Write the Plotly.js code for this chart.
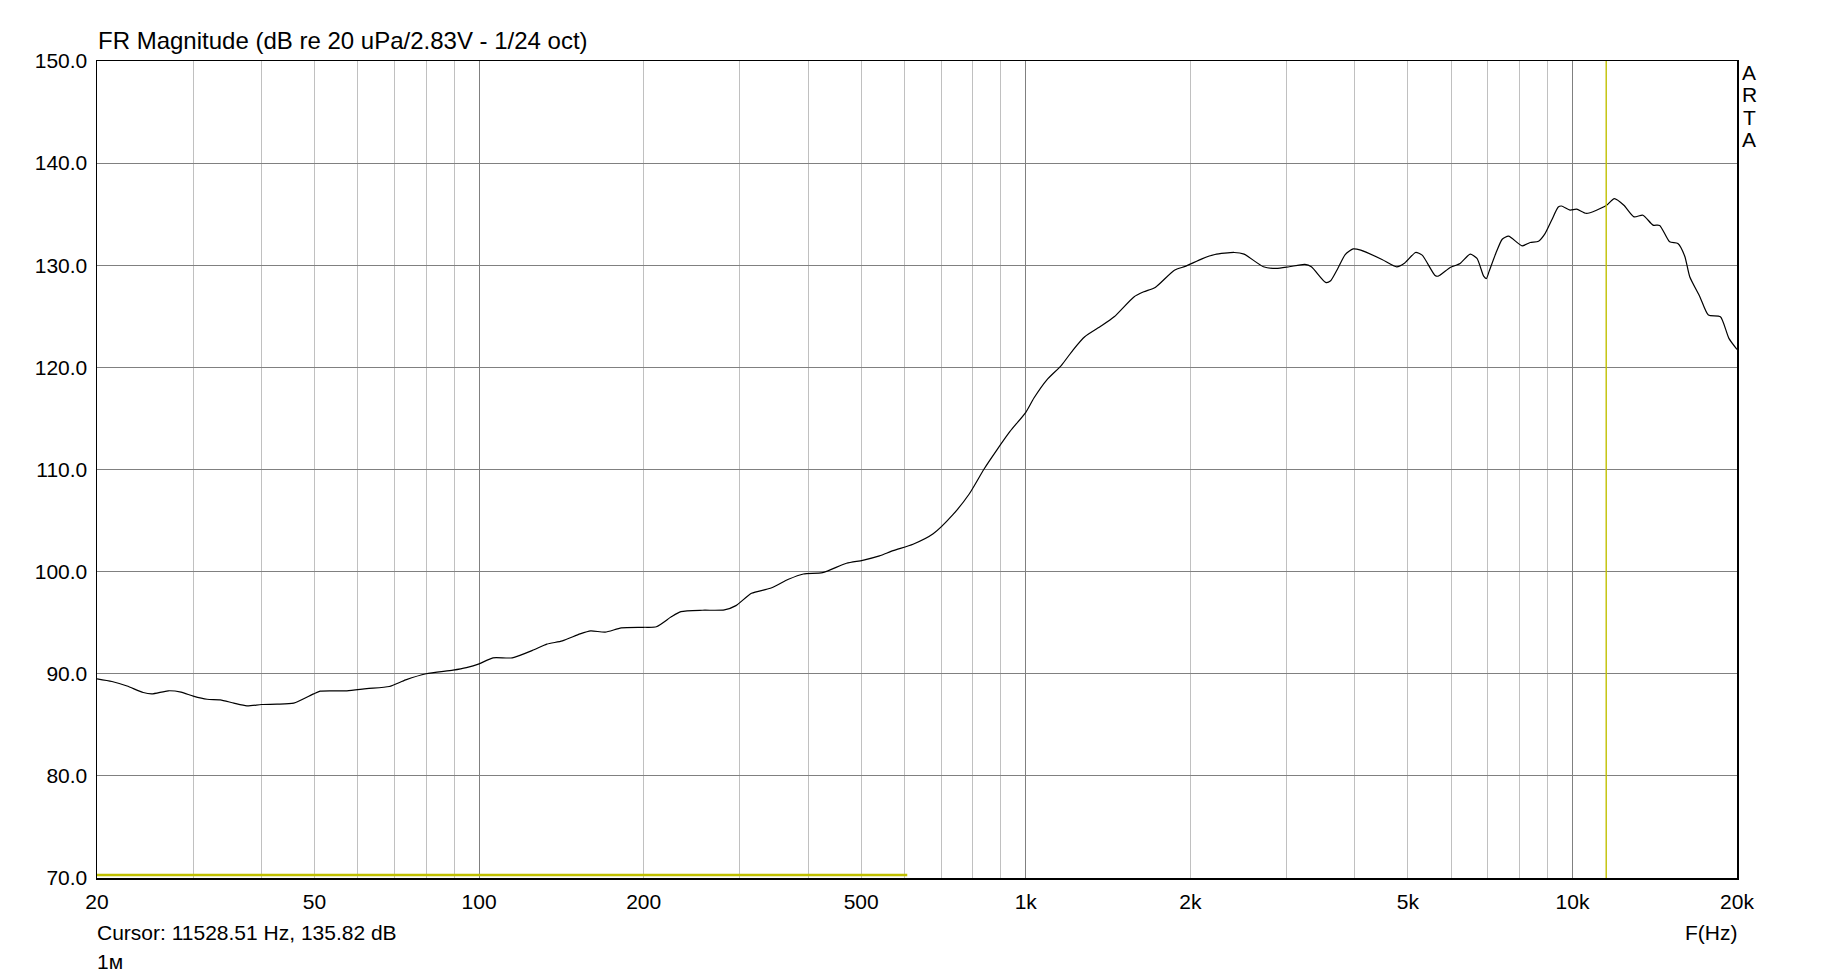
<!DOCTYPE html>
<html>
<head>
<meta charset="utf-8">
<script src="https://cdn.plot.ly/plotly-3.0.1.min.js"></script>
<style>
  html, body { margin: 0; padding: 0; background: #ffffff; }
  #chart { width: 1833px; height: 978px; }
</style>
</head>
<body>
<div id="chart"></div>
<script>
// ---- data ----
const freqHz = [20, 21.3, 22.7, 24.3, 25.2, 27.0, 28.5, 30, 31.8, 33.6, 35.6, 37.6, 40, 42.7, 45.8, 49.8, 51.2, 57.3, 62.3, 68.5, 73.4, 80, 89.6, 94.8, 100, 106, 115, 126, 133, 142, 153, 160, 170, 182, 200, 211, 225, 234, 256, 281, 295, 315, 341, 368, 392, 425, 470, 503, 540, 572, 622, 677, 735, 788, 839, 885, 935, 1000, 1035, 1092, 1162, 1220, 1282, 1373, 1451, 1577, 1644, 1725, 1870, 1963, 2100, 2218, 2406, 2508, 2721, 2873, 3033, 3240, 3330, 3536, 3607, 3722, 3840, 3970, 4100, 4484, 4770, 4935, 5165, 5310, 5600, 5680, 5975, 6230, 6500, 6690, 6880, 6960, 7040, 7240, 7440, 7640, 8090, 8370, 8670, 8910, 9160, 9420, 9550, 9900, 10180, 10610, 11530, 11930, 12420, 12960, 13460, 14040, 14440, 15060, 15590, 16050, 16390, 17110, 17730, 18650, 19330, 20000];
const magDb = [89.5, 89.24, 88.8, 88.16, 88.03, 88.33, 88.2, 87.81, 87.5, 87.45, 87.12, 86.86, 86.99, 87.02, 87.12, 88.03, 88.3, 88.33, 88.55, 88.75, 89.4, 90.0, 90.35, 90.6, 90.97, 91.56, 91.56, 92.35, 92.9, 93.22, 93.9, 94.2, 94.07, 94.49, 94.55, 94.6, 95.6, 96.08, 96.22, 96.25, 96.67, 97.88, 98.37, 99.25, 99.77, 99.9, 100.82, 101.11, 101.54, 102.06, 102.68, 103.7, 105.55, 107.6, 110.05, 111.9, 113.7, 115.6, 117.0, 118.76, 120.2, 121.7, 123.0, 124.04, 124.95, 126.9, 127.4, 127.83, 129.52, 129.91, 130.63, 131.05, 131.25, 131.09, 129.85, 129.69, 129.85, 130.08, 129.85, 128.32, 128.45, 129.69, 131.05, 131.6, 131.48, 130.57, 129.85, 130.23, 131.25, 130.99, 129.03, 128.93, 129.78, 130.17, 131.09, 130.67, 128.93, 128.7, 129.4, 131.15, 132.55, 132.85, 131.9, 132.23, 132.36, 133.1, 134.4, 135.7, 135.8, 135.4, 135.49, 135.07, 135.85, 136.53, 135.88, 134.74, 134.9, 133.93, 133.9, 132.29, 132.13, 130.89, 128.87, 126.9, 125.12, 124.95, 122.84, 121.76];

// second (yellow) trace lying on the bottom of the plot
const lowTraceHz = [20, 607];
const lowTraceDb = [70.3, 70.3];

// cursor
const cursorFreq = 11528.51;
const cursorDb = 135.82;

// axes
const xRange = [20, 20000];
const yRange = [70, 150];
const xGridVals = [20, 30, 40, 50, 60, 70, 80, 90, 100, 200, 300, 400, 500, 600, 700, 800, 900, 1000, 2000, 3000, 4000, 5000, 6000, 7000, 8000, 9000, 10000, 20000];
const xLabelMap = {20: '20', 50: '50', 100: '100', 200: '200', 500: '500', 1000: '1k', 2000: '2k', 5000: '5k', 10000: '10k', 20000: '20k'};
const xDecadeVals = [100, 1000, 10000];

const titleText = 'FR Magnitude (dB re 20 uPa/2.83V - 1/24 oct)';
const xAxisLabel = 'F(Hz)';
const brandLetters = ['A', 'R', 'T', 'A'];
const distanceLabel = '1м';

// ---- build ----
const FONT = '"Liberation Sans", Arial, Helvetica, sans-serif';

const traces = [
  {
    x: freqHz, y: magDb, type: 'scatter', mode: 'lines',
    line: {color: '#000000', width: 1.2, shape: 'spline', smoothing: 0.6},
    xaxis: 'x', yaxis: 'y', hoverinfo: 'skip'
  },
  {
    x: lowTraceHz, y: lowTraceDb, type: 'scatter', mode: 'lines',
    line: {color: '#c0c000', width: 2.4},
    xaxis: 'x', yaxis: 'y', hoverinfo: 'skip'
  },
  {
    x: [cursorFreq, cursorFreq], y: yRange, type: 'scatter', mode: 'lines',
    line: {color: '#c0c000', width: 1.4},
    xaxis: 'x2', yaxis: 'y', hoverinfo: 'skip'
  }
];

const logRange = xRange.map(v => Math.log10(v));

const annotations = [
  {
    text: titleText, xref: 'paper', yref: 'paper', x: 0, y: 1,
    xanchor: 'left', yanchor: 'middle', xshift: -1, yshift: 21,
    showarrow: false, font: {family: FONT, size: 24, color: '#000000'}
  },
  {
    text: `Cursor: ${cursorFreq.toFixed(2)} Hz, ${cursorDb.toFixed(2)} dB`,
    xref: 'paper', yref: 'paper', x: 0, y: 0,
    xanchor: 'left', yanchor: 'middle', xshift: -2, yshift: -54,
    showarrow: false, font: {family: FONT, size: 21, color: '#000000'}
  },
  {
    text: distanceLabel,
    xref: 'paper', yref: 'paper', x: 0, y: 0,
    xanchor: 'left', yanchor: 'middle', xshift: -2, yshift: -83,
    showarrow: false, font: {family: FONT, size: 21, color: '#000000'}
  },
  {
    text: xAxisLabel,
    xref: 'paper', yref: 'paper', x: 1, y: 0,
    xanchor: 'right', yanchor: 'middle', xshift: 2, yshift: -54,
    showarrow: false, font: {family: FONT, size: 21, color: '#000000'}
  }
];
brandLetters.forEach((ch, i) => {
  annotations.push({
    text: ch, xref: 'paper', yref: 'paper', x: 1, y: 1,
    xanchor: 'center', yanchor: 'middle', xshift: 12, yshift: -11 - i * 22.5,
    showarrow: false, font: {family: FONT, size: 21, color: '#000000'}
  });
});

const layout = {
  width: 1833, height: 978, autosize: false,
  margin: {l: 97, r: 96, t: 61, b: 100, pad: 0},
  paper_bgcolor: '#ffffff', plot_bgcolor: '#ffffff',
  showlegend: false, hovermode: false,
  font: {family: FONT, size: 21, color: '#000000'},
  xaxis: {
    type: 'log', range: logRange,
    tickmode: 'array', tickvals: xGridVals,
    ticktext: xGridVals.map(v => xLabelMap[v] || ''),
    showgrid: true, gridcolor: '#c0c0c0', gridwidth: 1,
    showline: true, linecolor: '#000000', linewidth: 1.5, mirror: true,
    ticks: '', zeroline: false, ticklabelstandoff: 4,
    tickfont: {family: FONT, size: 21, color: '#000000'}
  },
  xaxis2: {
    type: 'log', range: logRange, overlaying: 'x', anchor: 'y',
    tickmode: 'array', tickvals: xDecadeVals,
    showgrid: true, gridcolor: '#808080', gridwidth: 1,
    showline: false, showticklabels: false, ticks: '', zeroline: false
  },
  yaxis: {
    range: yRange, tickmode: 'linear', tick0: 70, dtick: 10, tickformat: '.1f',
    showgrid: true, gridcolor: '#808080', gridwidth: 1,
    showline: true, linecolor: '#000000', linewidth: 1.5, mirror: true,
    ticks: '', zeroline: false, ticklabelstandoff: 4,
    tickfont: {family: FONT, size: 21, color: '#000000'}
  },
  annotations: annotations
};

Plotly.newPlot('chart', traces, layout, {displayModeBar: false, staticPlot: true});
</script>
</body>
</html>
